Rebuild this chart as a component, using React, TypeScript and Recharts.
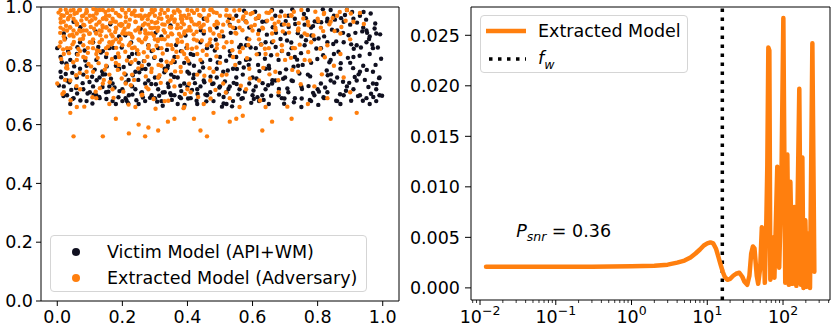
import React from 'react';
import {
  ScatterChart,
  Scatter,
  LineChart,
  Line,
  XAxis,
  YAxis,
  ReferenceLine,
  ReferenceDot,
  Legend,
} from 'recharts';

const FONT = '"DejaVu Sans", sans-serif';
const ORANGE = '#ff7f0e';
const DARK = '#101020';
const FS = 17.5;

// ---- left panel: watermark response scatter ----
const victimLabel = 'Victim Model (API+WM)';
const extractedLabel = 'Extracted Model (Adversary)';

const victimPoints: [number, number][] = [
  [0.00,0.86],[0.01,0.78],[0.02,0.73],[0.03,0.70],[0.04,0.82],[0.05,0.69],[0.06,0.76],[0.07,0.88],[0.08,0.72],[0.09,0.80],
  [0.02,0.91],[0.04,0.67],[0.06,0.84],[0.08,0.77],[0.10,0.71],[0.03,0.75],[0.05,0.95],[0.07,0.79],[0.09,0.68],[0.01,0.83],
  [0.11,0.73],[0.12,0.82],[0.13,0.69],[0.14,0.77],[0.15,0.71],[0.16,0.86],[0.17,0.74],[0.18,0.67],[0.19,0.79],[0.20,0.72],
  [0.11,0.88],[0.13,0.76],[0.15,0.83],[0.17,0.68],[0.19,0.90],[0.12,0.70],[0.14,0.85],[0.16,0.73],[0.18,0.80],[0.20,0.68],
  [0.21,0.77],[0.22,0.70],[0.23,0.84],[0.24,0.72],[0.25,0.67],[0.26,0.79],[0.27,0.74],[0.28,0.87],[0.29,0.70],[0.30,0.76],
  [0.21,0.69],[0.23,0.73],[0.25,0.81],[0.27,0.68],[0.29,0.85],[0.22,0.83],[0.24,0.78],[0.26,0.71],[0.28,0.75],[0.30,0.69],
  [0.31,0.72],[0.32,0.68],[0.33,0.79],[0.34,0.74],[0.35,0.70],[0.36,0.83],[0.37,0.76],[0.38,0.69],[0.39,0.81],[0.40,0.73],
  [0.31,0.86],[0.33,0.71],[0.35,0.77],[0.37,0.67],[0.39,0.74],[0.32,0.90],[0.34,0.80],[0.36,0.70],[0.38,0.85],[0.40,0.78],
  [0.41,0.69],[0.42,0.77],[0.43,0.72],[0.44,0.88],[0.45,0.75],[0.46,0.70],[0.47,0.82],[0.48,0.68],[0.49,0.79],[0.50,0.73],
  [0.41,0.84],[0.43,0.67],[0.45,0.91],[0.47,0.71],[0.49,0.76],[0.42,0.80],[0.44,0.73],[0.46,0.86],[0.48,0.74],[0.50,0.83],
  [0.45,0.96],[0.49,0.93],
  [0.51,0.78],[0.52,0.71],[0.53,0.85],[0.54,0.68],[0.55,0.76],[0.56,0.81],[0.57,0.69],[0.58,0.87],[0.59,0.74],[0.60,0.70],
  [0.51,0.90],[0.53,0.73],[0.55,0.83],[0.57,0.77],[0.59,0.93],[0.52,0.67],[0.54,0.79],[0.56,0.72],[0.58,0.82],[0.60,0.76],
  [0.55,0.97],[0.53,0.94],
  [0.61,0.73],[0.62,0.84],[0.63,0.70],[0.64,0.79],[0.65,0.67],[0.66,0.88],[0.67,0.75],[0.68,0.82],[0.69,0.69],[0.70,0.91],
  [0.61,0.86],[0.62,0.68],[0.63,0.95],[0.64,0.72],[0.65,0.80],[0.66,0.74],[0.67,0.97],[0.68,0.70],[0.69,0.85],[0.70,0.76],
  [0.62,0.92],[0.66,0.99],[0.69,0.94],[0.64,0.88],
  [0.71,0.71],[0.72,0.86],[0.73,0.69],[0.74,0.80],[0.75,0.73],[0.76,0.94],[0.77,0.77],[0.78,0.68],[0.79,0.89],[0.80,0.72],
  [0.71,0.97],[0.72,0.75],[0.73,0.83],[0.74,0.92],[0.75,0.66],[0.76,0.87],[0.77,0.99],[0.78,0.81],[0.79,0.70],[0.80,0.95],
  [0.73,0.96],[0.75,0.90],[0.78,0.93],[0.71,0.84],
  [0.81,0.74],[0.82,0.90],[0.83,0.71],[0.84,0.82],[0.85,0.97],[0.86,0.76],[0.87,0.67],[0.88,0.88],[0.89,0.73],[0.90,0.94],
  [0.81,0.86],[0.82,0.69],[0.83,0.96],[0.84,0.75],[0.85,0.84],[0.86,0.92],[0.87,0.79],[0.88,0.70],[0.89,0.99],[0.90,0.81],
  [0.84,0.99],[0.86,0.68],[0.88,0.95],[0.83,0.88],
  [0.91,0.72],[0.92,0.87],[0.93,0.78],[0.94,0.93],[0.95,0.69],[0.96,0.84],[0.97,0.74],[0.98,0.91],[0.99,0.70],[0.91,0.96],
  [0.92,0.75],[0.93,0.70],[0.94,0.80],[0.95,0.88],[0.96,0.67],[0.97,0.78],[0.98,0.72],[0.99,0.76],[0.93,0.97],[0.96,0.90],
  [0.91,0.83],[0.98,0.68],[0.95,0.92],[0.97,0.86],
  [0.014,0.812],[0.037,0.744],[0.061,0.706],[0.084,0.852],[0.107,0.763],[0.129,0.694],[0.152,0.798],[0.176,0.726],[0.198,0.862],[0.219,0.752],
  [0.243,0.683],[0.266,0.816],[0.289,0.738],[0.313,0.698],[0.337,0.854],[0.359,0.762],[0.381,0.714],[0.406,0.808],[0.428,0.681],[0.452,0.744],
  [0.474,0.867],[0.497,0.702],[0.519,0.817],[0.542,0.742],[0.566,0.688],[0.588,0.803],[0.612,0.757],[0.634,0.684],[0.657,0.836],[0.681,0.721],
  [0.703,0.788],[0.727,0.676],[0.749,0.843],[0.772,0.731],[0.796,0.859],[0.818,0.693],[0.841,0.771],[0.864,0.848],[0.887,0.715],[0.909,0.792],
  [0.933,0.862],[0.956,0.728],[0.978,0.803],[0.992,0.907],[0.024,0.893],[0.071,0.931],[0.118,0.917],[0.163,0.941],[0.209,0.904],[0.256,0.926],
  [0.302,0.912],[0.348,0.937],[0.394,0.903],[0.441,0.921],[0.487,0.889],[0.533,0.912],[0.579,0.951],[0.626,0.873],[0.672,0.912],[0.719,0.879],
  [0.764,0.962],[0.811,0.948],[0.857,0.883],[0.903,0.873],[0.949,0.957],[0.985,0.862],[0.608,0.984],[0.702,0.952],[0.781,0.903],[0.872,0.962],
  [0.916,0.912],[0.963,0.978],[0.047,0.687],[0.139,0.728],[0.231,0.702],[0.324,0.664],[0.418,0.758],[0.511,0.672],[0.603,0.716],[0.694,0.756],
  [0.786,0.708],[0.878,0.746],[0.971,0.694],[0.559,0.863],[0.651,0.791],[0.744,0.774],[0.836,0.812],[0.929,0.834],
  [0.005,0.733],[0.019,0.697],[0.033,0.851],[0.046,0.776],[0.058,0.724],[0.071,0.682],[0.086,0.818],[0.099,0.745],[0.112,0.702],[0.126,0.864],
  [0.138,0.781],[0.151,0.687],[0.165,0.756],[0.179,0.829],[0.191,0.714],[0.204,0.796],[0.218,0.673],[0.232,0.768],[0.245,0.842],[0.258,0.708],
  [0.271,0.789],[0.285,0.691],[0.298,0.827],[0.311,0.761],[0.324,0.709],[0.338,0.792],[0.352,0.684],[0.365,0.871],[0.378,0.732],[0.391,0.667],
  [0.405,0.774],[0.418,0.837],[0.431,0.704],[0.445,0.812],[0.458,0.679],[0.471,0.763],[0.484,0.852],[0.498,0.726],[0.511,0.694],[0.524,0.784],
  [0.537,0.662],[0.551,0.738],[0.564,0.871],[0.577,0.712],[0.591,0.822],[0.604,0.687],[0.617,0.803],[0.631,0.741],[0.644,0.906],[0.657,0.698],
  [0.671,0.864],[0.684,0.776],[0.697,0.671],[0.711,0.932],[0.724,0.748],[0.737,0.821],[0.751,0.689],[0.764,0.887],[0.777,0.764],[0.791,0.951],
  [0.804,0.712],[0.817,0.836],[0.831,0.768],[0.844,0.923],[0.857,0.681],[0.871,0.809],[0.884,0.973],[0.897,0.742],[0.911,0.858],[0.924,0.697],
  [0.937,0.917],[0.951,0.786],[0.964,0.705],[0.977,0.944],[0.989,0.758],[0.012,0.761],[0.028,0.808],[0.043,0.718],[0.062,0.863],[0.078,0.741],
  [0.093,0.706],[0.115,0.787],[0.134,0.845],[0.157,0.712],[0.172,0.861],[0.188,0.693],[0.211,0.743],[0.227,0.879],[0.249,0.752],[0.263,0.692],
  [0.281,0.804],[0.303,0.737],[0.319,0.819],[0.342,0.728],[0.361,0.813],[0.376,0.694],[0.397,0.861],[0.414,0.718],[0.437,0.781],[0.455,0.702],
  [0.476,0.738],[0.493,0.811],[0.515,0.747],[0.531,0.835],[0.556,0.702],[0.573,0.794],[0.594,0.862],[0.615,0.693],[0.638,0.824],[0.661,0.751],
  [0.686,0.891],[0.707,0.723],[0.731,0.942],[0.754,0.803],[0.776,0.684],[0.799,0.823],[0.823,0.726],[0.848,0.874],[0.869,0.703],[0.893,0.827],
  [0.914,0.762],[0.939,0.681],[0.958,0.891],[0.981,0.738],[0.995,0.824],[0.617,0.963],[0.688,0.985],[0.739,0.911],[0.816,0.992],[0.853,0.957],
  [0.895,0.904],[0.941,0.983],[0.975,0.927],[0.662,0.931],[0.706,0.886],[0.758,0.976],[0.803,0.893],[0.829,0.951],[0.878,0.912],[0.921,0.947],
  [0.968,0.872],[0.546,0.928],[0.583,0.893],[0.529,0.962],[0.574,0.987],[0.641,0.951],[0.722,0.992],[0.786,0.935],[0.906,0.983],[0.952,0.912],
  [0.108,0.672],[0.213,0.681],[0.307,0.678],[0.402,0.689],[0.506,0.661],[0.596,0.674],[0.698,0.689],[0.802,0.667],[0.903,0.681],[0.998,0.698],
  [0.026,0.772],[0.121,0.751],[0.224,0.807],[0.329,0.778],[0.423,0.741],[0.526,0.721],[0.621,0.782],[0.726,0.797],[0.828,0.784],[0.926,0.771],
  [0.052,0.798],[0.147,0.771],[0.252,0.778],[0.347,0.707],[0.448,0.794],[0.552,0.789],[0.648,0.734],[0.752,0.721],[0.851,0.743],[0.945,0.752],
];

const extractedPoints: [number, number][] = [
  [0.01,0.99],[0.02,0.95],[0.03,0.92],[0.01,0.88],[0.04,0.97],[0.05,0.90],[0.02,0.84],[0.06,0.94],[0.07,0.99],[0.08,0.87],
  [0.03,0.80],[0.09,0.92],[0.05,0.96],[0.04,0.75],[0.06,0.82],[0.08,0.97],[0.00,0.74],[0.07,0.89],[0.02,0.71],[0.09,0.78],
  [0.10,0.95],[0.05,0.56],[0.03,0.98],[0.06,0.91],[0.01,0.93],[0.08,0.83],[0.04,0.86],[0.07,0.72],[0.09,0.99],[0.02,0.90],
  [0.06,0.66],[0.04,0.64],[0.10,0.88],
  [0.11,0.97],[0.12,0.91],[0.13,0.85],[0.14,0.99],[0.15,0.93],[0.16,0.88],[0.17,0.96],[0.18,0.81],[0.19,0.94],[0.11,0.78],
  [0.12,0.98],[0.13,0.92],[0.14,0.74],[0.15,0.86],[0.16,0.97],[0.17,0.90],[0.18,0.95],[0.19,0.83],[0.20,0.99],[0.12,0.69],
  [0.14,0.56],[0.16,0.67],[0.18,0.62],[0.11,0.89],[0.13,0.95],[0.15,0.80],[0.17,0.72],[0.19,0.97],[0.20,0.91],[0.12,0.84],
  [0.14,0.93],[0.16,0.77],[0.18,0.89],[0.13,0.99],
  [0.21,0.95],[0.22,0.87],[0.23,0.98],[0.24,0.92],[0.25,0.84],[0.26,0.96],[0.27,0.89],[0.28,0.94],[0.29,0.79],[0.30,0.97],
  [0.21,0.74],[0.22,0.99],[0.23,0.90],[0.24,0.82],[0.25,0.93],[0.26,0.70],[0.27,0.97],[0.28,0.86],[0.29,0.91],[0.30,0.83],
  [0.22,0.57],[0.25,0.60],[0.27,0.56],[0.28,0.59],[0.24,0.66],[0.26,0.88],[0.21,0.91],[0.23,0.77],[0.29,0.99],[0.30,0.89],
  [0.22,0.94],[0.26,0.80],[0.28,0.72],[0.24,0.97],
  [0.31,0.93],[0.32,0.86],[0.33,0.98],[0.34,0.90],[0.35,0.81],[0.36,0.95],[0.37,0.88],[0.38,0.97],[0.39,0.84],[0.40,0.92],
  [0.31,0.76],[0.32,0.96],[0.33,0.68],[0.34,0.99],[0.35,0.91],[0.36,0.62],[0.37,0.94],[0.38,0.78],[0.39,0.97],[0.40,0.86],
  [0.31,0.58],[0.34,0.61],[0.36,0.73],[0.33,0.89],[0.35,0.96],[0.38,0.90],[0.40,0.72],[0.32,0.80],[0.37,0.83],[0.39,0.66],
  [0.41,0.96],[0.42,0.89],[0.43,0.94],[0.44,0.82],[0.45,0.99],[0.46,0.87],[0.47,0.92],[0.48,0.78],[0.49,0.95],[0.50,0.90],
  [0.41,0.71],[0.42,0.98],[0.43,0.84],[0.44,0.93],[0.45,0.67],[0.46,0.96],[0.47,0.75],[0.48,0.91],[0.49,0.86],[0.50,0.97],
  [0.42,0.62],[0.46,0.56],[0.44,0.58],[0.48,0.64],[0.43,0.77],[0.47,0.99],[0.50,0.81],
  [0.51,0.94],[0.52,0.88],[0.53,0.97],[0.54,0.83],[0.55,0.91],[0.56,0.99],[0.57,0.86],[0.58,0.95],[0.59,0.79],[0.60,0.92],
  [0.51,0.74],[0.53,0.69],[0.55,0.62],[0.57,0.96],[0.59,0.89],[0.52,0.77],[0.54,0.93],[0.56,0.66],[0.58,0.72],[0.60,0.98],
  [0.53,0.61],[0.57,0.63],
  [0.61,0.96],[0.62,0.89],[0.63,0.93],[0.64,0.84],[0.65,0.98],[0.66,0.91],[0.67,0.78],[0.68,0.95],[0.69,0.87],[0.70,0.97],
  [0.62,0.75],[0.64,0.66],[0.66,0.61],[0.68,0.71],[0.70,0.82],[0.63,0.58],[0.65,0.86],[0.67,0.93],
  [0.71,0.94],[0.72,0.97],[0.73,0.86],[0.74,0.92],[0.75,0.99],[0.76,0.82],[0.77,0.95],[0.78,0.88],[0.79,0.73],[0.80,0.96],
  [0.72,0.62],[0.74,0.78],[0.77,0.67],[0.76,0.91],
  [0.81,0.93],[0.82,0.98],[0.83,0.87],[0.84,0.95],[0.85,0.80],[0.86,0.97],[0.87,0.91],[0.88,0.76],[0.89,0.99],[0.90,0.89],
  [0.91,0.95],[0.92,0.64],[0.93,0.98],[0.84,0.62],[0.87,0.84],[0.83,0.69],[0.90,0.71],
  [0.02,0.97],[0.04,0.93],[0.06,0.98],[0.08,0.92],[0.10,0.97],[0.12,0.94],[0.14,0.96],[0.16,0.92],[0.18,0.98],[0.20,0.94],
  [0.22,0.91],[0.24,0.95],[0.26,0.99],[0.28,0.97],[0.30,0.93],[0.32,0.99],[0.34,0.95],[0.36,0.98],[0.38,0.93],[0.40,0.99],
  [0.03,0.86],[0.07,0.85],[0.11,0.86],[0.15,0.90],[0.19,0.88],[0.23,0.86],[0.27,0.92],[0.31,0.89],[0.35,0.87],[0.39,0.91],
  [0.43,0.99],[0.45,0.94],[0.47,0.89],[0.05,0.99],[0.09,0.96],[0.13,0.88],[0.17,0.99],[0.21,0.98],[0.25,0.97],[0.29,0.95],
  [0.33,0.94],[0.37,0.99],[0.41,0.92],[0.49,0.98],[0.01,0.96],[0.10,0.91],[0.20,0.87],[0.30,0.99],[0.15,0.97],[0.05,0.92],
  [0.25,0.89],[0.35,0.93],[0.12,0.99],[0.08,0.94],[0.18,0.93],[0.28,0.91],[0.38,0.96],[0.44,0.97],[0.52,0.99],[0.54,0.96],
  [0.56,0.93],[0.58,0.98],[0.62,0.97],[0.66,0.96],
  [0.013,0.972],[0.027,0.936],[0.041,0.988],[0.056,0.951],[0.072,0.917],[0.088,0.979],[0.103,0.932],[0.117,0.961],[0.132,0.904],[0.148,0.983],
  [0.163,0.947],[0.178,0.915],[0.194,0.968],[0.207,0.926],[0.223,0.957],[0.238,0.987],[0.254,0.913],[0.269,0.944],[0.284,0.976],[0.297,0.902],
  [0.312,0.962],[0.327,0.921],[0.343,0.953],[0.358,0.985],[0.374,0.908],[0.389,0.941],[0.404,0.974],[0.419,0.907],[0.436,0.946],[0.451,0.918],
  [0.466,0.972],[0.483,0.939],[0.497,0.905],[0.018,0.856],[0.047,0.873],[0.063,0.838],[0.094,0.861],[0.124,0.827],[0.156,0.866],[0.187,0.842],
  [0.214,0.818],[0.246,0.853],[0.277,0.831],[0.305,0.868],[0.336,0.814],[0.366,0.848],[0.397,0.826],[0.428,0.862],[0.459,0.837],[0.491,0.873],
  [0.009,0.912],[0.034,0.963],[0.067,0.989],[0.081,0.903],[0.111,0.993],[0.139,0.937],[0.171,0.882],[0.199,0.992],[0.231,0.896],[0.262,0.963],
  [0.291,0.928],[0.321,0.891],[0.352,0.969],[0.383,0.882],[0.413,0.951],[0.444,0.886],[0.474,0.992],[0.027,0.793],[0.058,0.768],[0.096,0.806],
  [0.143,0.752],[0.186,0.786],[0.226,0.734],[0.272,0.764],[0.318,0.742],[0.362,0.781],[0.405,0.739],[0.452,0.766],[0.016,0.704],[0.108,0.693],
  [0.203,0.712],[0.296,0.687],[0.392,0.704],[0.486,0.718],[0.524,0.951],[0.547,0.912],[0.572,0.968],[0.596,0.934],[0.617,0.908],[0.643,0.981],
  [0.668,0.943],[0.693,0.917],[0.718,0.972],[0.742,0.945],[0.768,0.905],[0.793,0.984],[0.817,0.918],[0.846,0.963],[0.873,0.932],[0.902,0.978],
  [0.538,0.853],[0.583,0.826],[0.627,0.872],[0.676,0.838],[0.724,0.861],[0.771,0.847],[0.822,0.829],[0.564,0.732],[0.652,0.771],[0.748,0.737],
  [0.074,0.954],[0.151,0.958],[0.229,0.975],[0.307,0.948],[0.384,0.958],[0.461,0.953],[0.038,0.903],[0.119,0.912],[0.196,0.936],[0.273,0.897],
  [0.004,0.981],[0.011,0.947],[0.019,0.924],[0.026,0.991],[0.033,0.958],[0.039,0.931],[0.046,0.906],[0.053,0.977],[0.061,0.943],[0.068,0.921],
  [0.076,0.969],[0.083,0.938],[0.091,0.984],[0.098,0.909],[0.106,0.955],[0.113,0.926],[0.121,0.978],[0.128,0.947],[0.136,0.918],[0.143,0.962],
  [0.151,0.931],[0.158,0.989],[0.166,0.907],[0.173,0.951],[0.181,0.926],[0.188,0.973],[0.196,0.942],[0.203,0.918],[0.211,0.966],[0.218,0.933],
  [0.226,0.908],[0.233,0.981],[0.241,0.949],[0.248,0.924],[0.256,0.971],[0.263,0.938],[0.271,0.911],[0.278,0.958],[0.286,0.929],[0.293,0.982],
  [0.301,0.946],[0.308,0.919],[0.316,0.976],[0.323,0.941],[0.331,0.913],[0.338,0.967],[0.346,0.931],[0.353,0.907],[0.361,0.958],[0.368,0.928],
  [0.376,0.984],[0.383,0.948],[0.391,0.917],[0.398,0.963],[0.406,0.932],[0.413,0.987],[0.421,0.941],[0.428,0.916],[0.436,0.973],[0.443,0.934],
  [0.007,0.866],[0.022,0.889],[0.036,0.843],[0.051,0.881],[0.065,0.857],[0.079,0.892],[0.094,0.844],[0.108,0.878],[0.122,0.852],[0.137,0.889],
  [0.152,0.841],[0.167,0.873],[0.181,0.861],[0.195,0.891],[0.209,0.848],[0.224,0.877],[0.238,0.862],[0.252,0.887],[0.266,0.846],[0.281,0.869],
  [0.295,0.853],[0.309,0.884],[0.324,0.842],[0.339,0.872],[0.354,0.857],[0.369,0.889],[0.384,0.849],[0.399,0.871],[0.414,0.858],[0.429,0.886],
  [0.012,0.823],[0.031,0.791],[0.049,0.812],[0.069,0.776],[0.087,0.827],[0.104,0.798],[0.127,0.809],[0.146,0.787],[0.168,0.823],[0.189,0.803],
  [0.206,0.774],[0.228,0.812],[0.249,0.791],[0.268,0.816],[0.289,0.779],[0.311,0.803],[0.334,0.784],[0.356,0.818],[0.379,0.796],[0.402,0.817],
  [0.024,0.752],[0.059,0.731],[0.092,0.762],[0.131,0.724],[0.161,0.744],[0.198,0.757],[0.236,0.752],[0.274,0.727],[0.314,0.768],[0.348,0.749],
  [0.041,0.683],[0.083,0.661],[0.118,0.712],[0.173,0.691],[0.219,0.668],[0.261,0.702],[0.302,0.654],[0.341,0.681],[0.388,0.656],[0.433,0.694],
  [0.456,0.961],[0.469,0.926],[0.481,0.982],[0.494,0.944],[0.506,0.917],[0.519,0.971],[0.531,0.936],[0.544,0.988],[0.557,0.952],[0.569,0.921],
  [0.582,0.947],[0.594,0.976],[0.607,0.939],[0.619,0.964],[0.632,0.927],[0.645,0.953],[0.657,0.986],[0.671,0.922],[0.684,0.968],[0.697,0.941],
  [0.712,0.913],[0.727,0.984],[0.741,0.927],[0.756,0.961],[0.772,0.938],[0.787,0.903],[0.802,0.952],[0.819,0.976],[0.836,0.941],[0.852,0.918],
  [0.868,0.983],[0.886,0.953],[0.447,0.851],[0.468,0.878],[0.489,0.832],[0.512,0.863],[0.536,0.881],[0.561,0.847],[0.587,0.871],[0.613,0.839],
  [0.638,0.858],[0.664,0.884],[0.691,0.851],[0.718,0.827],[0.745,0.872],[0.776,0.818],[0.808,0.858],[0.468,0.792],[0.506,0.768],[0.547,0.803],
  [0.592,0.757],[0.633,0.793],[0.679,0.751],[0.722,0.786],[0.813,0.771],[0.471,0.689],[0.518,0.709],[0.623,0.682],[0.707,0.661],[0.942,0.942],
];

const scatterXTicks = [0, 0.2, 0.4, 0.6, 0.8, 1.0];
const scatterYTicks = [0, 0.2, 0.4, 0.6, 0.8, 1.0];
const scatterXDomain: [number, number] = [-0.05, 1.05];
const scatterYDomain: [number, number] = [0, 1];

// ---- right panel: spectrum of the extracted model ----
const spectrumLabel = 'Extracted Model';
const frequencies = [
  0.012, 0.02, 0.05, 0.1, 0.3, 1, 2, 3, 4, 5, 6, 7, 8, 9, 10, 11, 12, 13, 14, 15,
  16, 17, 18.4, 20, 22, 24, 26.5, 29, 31, 33.7, 36, 38, 40, 42, 45, 47, 50, 52.5, 55, 57.5,
  60, 62, 64, 66, 68, 72, 77, 84, 89, 95, 101, 107, 114, 119, 125, 133, 141, 150, 164, 172,
  180, 186, 197, 207, 216, 227, 244, 259,
];
const power = [
  0.0021, 0.0021, 0.0021, 0.0021, 0.0021, 0.00215, 0.0022, 0.0023, 0.0025, 0.0027, 0.003, 0.0034, 0.0038, 0.0042, 0.0044, 0.0045, 0.0044, 0.0039, 0.0031, 0.0023,
  0.0016, 0.0011, 0.0008, 0.0009, 0.0012, 0.0014, 0.0015, 0.0011, 0.0006, 0.0003, 0.0012, 0.0034, 0.0041, 0.0039, 0.0012, 0.0004, 0.002, 0.006, 0.0058, 0.0005,
  0.006, 0.012, 0.0238, 0.0235, 0.0008, 0.005, 0.001, 0.012, 0.002, 0.01, 0.0267, 0.0005, 0.0132, 0.0003, 0.0105, 0.0004, 0.008, 0.0002, 0.0197, 0.0003,
  0.0129, 0.0, 0.0067, 0.0001, 0.0054, 0.0, 0.0242, 0.0016,
];
const fwFrequency = 15.8;
const snrValue = 0.36;

const logMajorTicks = [0.01, 0.1, 1, 10, 100];
const logMinorTicks = [
  0.008, 0.009, 0.02, 0.03, 0.04, 0.05, 0.06, 0.07, 0.08, 0.09,
  0.2, 0.3, 0.4, 0.5, 0.6, 0.7, 0.8, 0.9, 2, 3, 4, 5, 6, 7, 8, 9,
  20, 30, 40, 50, 60, 70, 80, 90, 200, 300, 400,
];
const spectrumYTicks = [0, 0.005, 0.01, 0.015, 0.02, 0.025];
const spectrumXDomain: [number, number] = [0.0076, 417];
const spectrumYDomain: [number, number] = [-0.0012, 0.0278];

const victimData = victimPoints.map(([x, y]) => ({ x, y }));
const extractedData = extractedPoints.map(([x, y]) => ({ x, y }));
const spectrumData = frequencies.map((f, i) => ({ f, p: power[i] }));

const tickStyle = { fill: '#000', fontSize: FS, fontFamily: FONT };

const makeDot = (color: string) => (props: any) =>
  <circle cx={props.cx} cy={props.cy} r={2.2} fill={color} />;

const LogTick = (props: any) => {
  const { x, y, payload } = props;
  const v = payload.value;
  const isMajor = logMajorTicks.some((m) => Math.abs(m - v) < m * 1e-6);
  if (!isMajor) {
    return <line x1={x} x2={x} y1={y} y2={y + 3} stroke="#000" strokeWidth={0.8} />;
  }
  const exp = Math.round(Math.log10(v));
  const expText = exp < 0 ? '\u2212' + Math.abs(exp) : String(exp);
  return (
    <g>
      <line x1={x} x2={x} y1={y} y2={y + 5} stroke="#000" strokeWidth={1} />
      <text x={x} y={y + 23} textAnchor="middle" fill="#000" fontFamily={FONT} fontSize={FS}>
        <tspan>10</tspan>
        <tspan dy={-8} fontSize={12.5}>{expText}</tspan>
      </text>
    </g>
  );
};

const SnrLabel = (props: any) => (
  <text x={props.cx} y={props.cy} fontFamily={FONT} fontSize={FS} fill="#000">
    <tspan fontStyle="italic">P</tspan>
    <tspan fontStyle="italic" fontSize={12.5} dy={4}>snr</tspan>
    <tspan dy={-4}>{` = ${snrValue}`}</tspan>
  </text>
);

const boxStyle: React.CSSProperties = {
  position: 'relative',
  boxSizing: 'border-box',
  border: '1px solid #d5d5d5',
  borderRadius: 4,
  background: 'rgba(255,255,255,0.85)',
  fontFamily: FONT,
  fontSize: FS,
  color: '#000',
};

const ScatterLegend = () => (
  <div style={{ ...boxStyle, width: 317, height: 57 }}>
    {[
      { label: victimLabel, color: DARK, cy: 16 },
      { label: extractedLabel, color: ORANGE, cy: 42 },
    ].map((row) => (
      <div key={row.label}>
        <span style={{ position: 'absolute', left: 21, top: row.cy - 4, width: 8, height: 8, borderRadius: 4, background: row.color }} />
        <span style={{ position: 'absolute', left: 56, top: row.cy - 11, lineHeight: '22px', whiteSpace: 'nowrap' }}>{row.label}</span>
      </div>
    ))}
  </div>
);

const SpectrumLegend = () => (
  <div style={{ ...boxStyle, width: 208, height: 58 }}>
    <svg width={50} height={58} style={{ position: 'absolute', left: 0, top: 0 }}>
      <line x1={5} x2={45} y1={15} y2={15} stroke={ORANGE} strokeWidth={4.5} />
      <line x1={8} x2={45} y1={43} y2={43} stroke="#000" strokeWidth={3.5} strokeDasharray="3.5 5.5" />
    </svg>
    <span style={{ position: 'absolute', left: 57, top: 4, lineHeight: '22px', whiteSpace: 'nowrap' }}>{spectrumLabel}</span>
    <span style={{ position: 'absolute', left: 57, top: 31, lineHeight: '22px', whiteSpace: 'nowrap' }}>
      <i>f</i><sub style={{ fontSize: 12.5 }}><i>w</i></sub>
    </span>
  </div>
);

export default function App() {
  return (
    <div style={{ position: 'absolute', left: 0, top: 0, width: 831, height: 333, background: '#fff' }}>
      <div style={{ position: 'absolute', left: 0, top: 0 }}>
        <ScatterChart width={420} height={333} margin={{ top: 7, right: 21, bottom: 0, left: 0 }}>
          <XAxis
            type="number"
            dataKey="x"
            domain={scatterXDomain}
            ticks={scatterXTicks}
            tickFormatter={(v: number) => v.toFixed(1)}
            height={32}
            tickSize={5}
            tickMargin={5}
            stroke="#000"
            tick={tickStyle}
            interval={0}
            allowDataOverflow
          />
          <YAxis
            type="number"
            dataKey="y"
            domain={scatterYDomain}
            ticks={scatterYTicks}
            tickFormatter={(v: number) => v.toFixed(1)}
            width={41}
            tickSize={5}
            tickMargin={3}
            stroke="#000"
            tick={tickStyle}
            interval={0}
            allowDataOverflow
          />
          <Scatter name={victimLabel} data={victimData} fill={DARK} shape={makeDot(DARK)} isAnimationActive={false} />
          <Scatter name={extractedLabel} data={extractedData} fill={ORANGE} shape={makeDot(ORANGE)} isAnimationActive={false} />
          <ReferenceLine y={scatterYDomain[1]} stroke="#000" strokeWidth={1} ifOverflow="visible" />
          <ReferenceLine x={scatterXDomain[1]} stroke="#000" strokeWidth={1} ifOverflow="visible" />
          <Legend
            layout="vertical"
            align="center"
            verticalAlign="middle"
            content={() => <ScatterLegend />}
            wrapperStyle={{ left: 50, top: 235, width: 317, height: 57 }}
          />
        </ScatterChart>
      </div>
      <div style={{ position: 'absolute', left: 395, top: 0 }}>
        <LineChart width={436} height={333} data={spectrumData} margin={{ top: 7, right: 1, bottom: 0, left: 0 }}>
          <XAxis
            type="number"
            dataKey="f"
            scale="log"
            domain={spectrumXDomain}
            ticks={[...logMajorTicks, ...logMinorTicks]}
            tick={<LogTick />}
            tickLine={false}
            tickSize={0}
            tickMargin={0}
            interval={0}
            height={33}
            stroke="#000"
            allowDataOverflow
          />
          <YAxis
            type="number"
            domain={spectrumYDomain}
            ticks={spectrumYTicks}
            tickFormatter={(v: number) => v.toFixed(3)}
            width={76}
            tickSize={6}
            tickMargin={5}
            stroke="#000"
            tick={tickStyle}
            interval={0}
            allowDataOverflow
          />
          <ReferenceLine x={fwFrequency} stroke="#000" strokeWidth={3.5} strokeDasharray="3.5 5.5" />
          <Line
            type="linear"
            dataKey="p"
            name={spectrumLabel}
            stroke={ORANGE}
            strokeWidth={4.5}
            strokeLinejoin="round"
            strokeLinecap="round"
            dot={false}
            activeDot={false}
            isAnimationActive={false}
          />
          <ReferenceLine y={spectrumYDomain[1]} stroke="#000" strokeWidth={1} ifOverflow="visible" />
          <ReferenceLine x={spectrumXDomain[1]} stroke="#000" strokeWidth={1} ifOverflow="visible" />
          <ReferenceDot x={0.03} y={0.00505} r={0} shape={SnrLabel} ifOverflow="visible" />
          <Legend
            layout="vertical"
            align="center"
            verticalAlign="middle"
            content={() => <SpectrumLegend />}
            wrapperStyle={{ left: 85, top: 15, width: 208, height: 58 }}
          />
        </LineChart>
      </div>
    </div>
  );
}
